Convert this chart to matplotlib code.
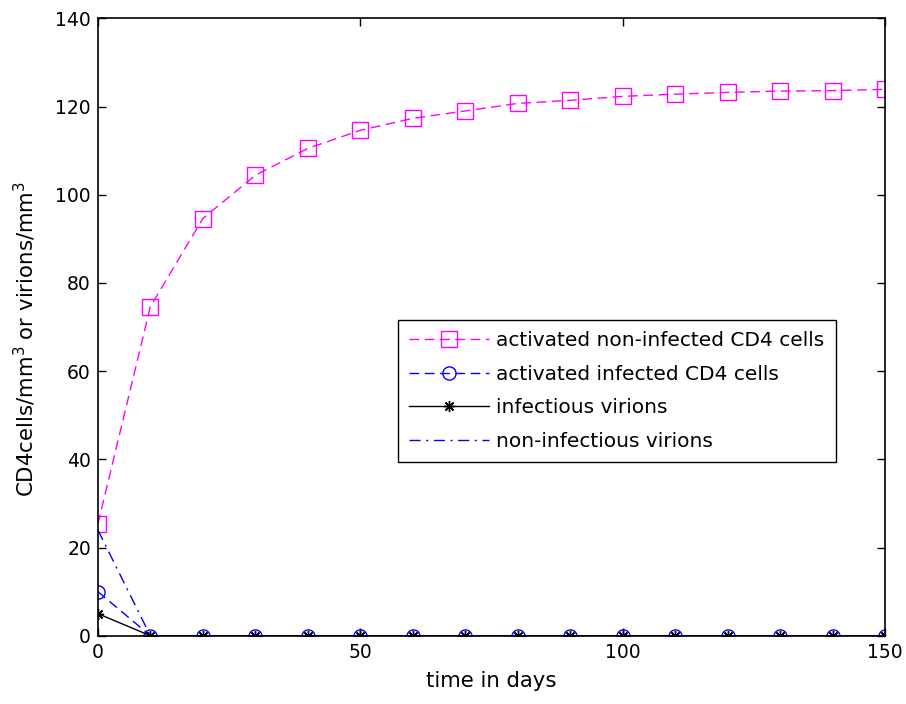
import matplotlib
matplotlib.use("Agg")
import matplotlib.pyplot as plt

plt.rcParams['font.family'] = ['DejaVu Sans']

days = [0, 10, 20, 30, 40, 50, 60, 70, 80, 90, 100, 110, 120, 130, 140, 150]
act_noninf = [25.3, 74.6, 94.6, 104.4, 110.5, 114.6, 117.3, 119.0, 120.7, 121.4,
              122.3, 122.8, 123.2, 123.5, 123.6, 123.9]
act_inf = [10, 0, 0, 0, 0, 0, 0, 0, 0, 0, 0, 0, 0, 0, 0, 0]
inf_vir = [5, 0, 0, 0, 0, 0, 0, 0, 0, 0, 0, 0, 0, 0, 0, 0]
noninf_vir = [24, 0, 0, 0, 0, 0, 0, 0, 0, 0, 0, 0, 0, 0, 0, 0]

labels = ['activated non-infected CD4 cells', 'activated infected CD4 cells',
          'infectious virions', 'non-infectious virions']

fig = plt.figure(figsize=(9.06, 7.04), dpi=100)
ax = fig.add_axes([0.108, 0.097, 0.869, 0.877])

ax.plot(days, act_noninf, color='#ff00ff', linestyle=(0, (7, 4)), lw=1.0,
        marker='s', markersize=11, markerfacecolor='none', markeredgewidth=1.0, label=labels[0])
ax.plot(days, act_inf, color='#0000ff', linestyle=(0, (7, 4)), lw=1.0,
        marker='o', markersize=9.5, markerfacecolor='none', markeredgewidth=1.0, label=labels[1])
ax.plot(days, inf_vir, color='black', linestyle='-', lw=1.0,
        marker=(8, 2, 0), markersize=8, markeredgewidth=1.0, label=labels[2])
ax.plot(days, noninf_vir, color='#0000ff', linestyle=(0, (8, 4, 1.5, 4)), lw=1.0,
        label=labels[3])

ax.set_xlim(0, 150)
ax.set_ylim(0, 140)
ax.set_xticks([0, 50, 100, 150])
ax.set_yticks(range(0, 141, 20))
ax.tick_params(direction='in', length=6, width=1, labelsize=13.5, top=True, right=True, pad=5)
for s in ax.spines.values():
    s.set_linewidth(1.2)

ax.set_xlabel('time in days', fontsize=15.3, labelpad=7)
ax.set_ylabel('CD4cells/mm$^3$ or virions/mm$^3$', fontsize=15.3)
ax.yaxis.set_label_coords(-0.076, 0.48)

leg = ax.legend(loc='lower left', bbox_to_anchor=(0.381, 0.2816), fontsize=14.5,
                handlelength=4.0, fancybox=False, framealpha=1, edgecolor='black',
                borderpad=0.55, labelspacing=0.72, handletextpad=0.35, borderaxespad=0)
leg.get_frame().set_linewidth(1.0)

fig.savefig('out.png', dpi=100)
